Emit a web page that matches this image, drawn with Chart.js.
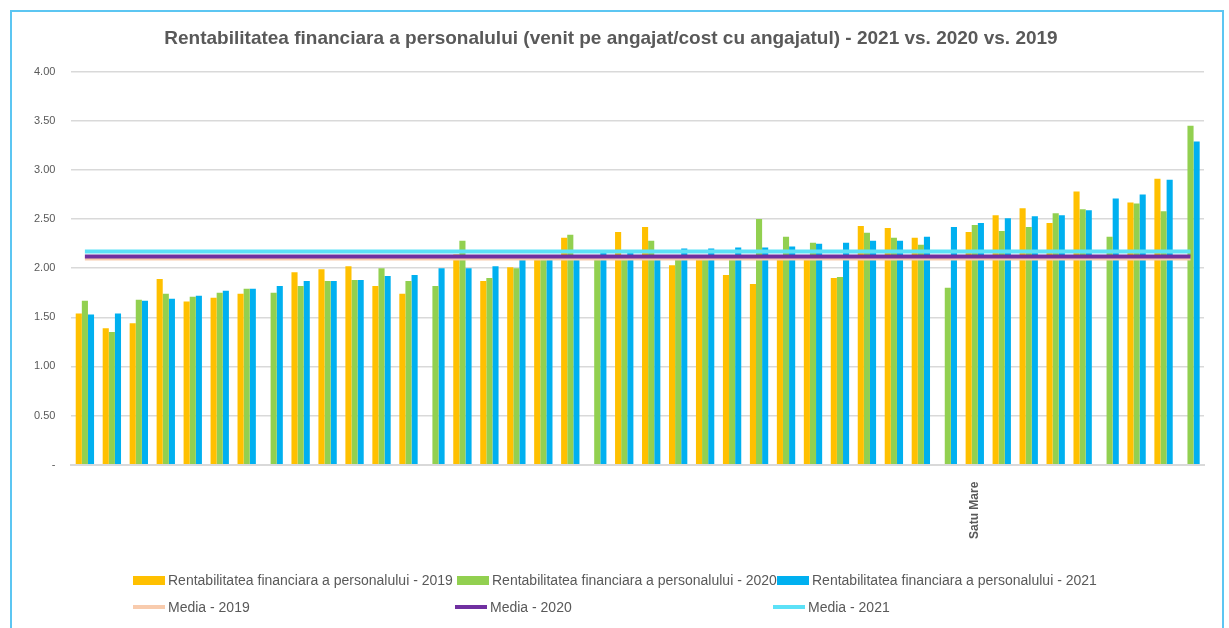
<!DOCTYPE html>
<html>
<head>
<meta charset="utf-8">
<script src="https://cdn.jsdelivr.net/npm/chart.js@4/dist/chart.umd.min.js"></script>
<style>
  html, body { margin: 0; padding: 0; background: #fff; }
  body { width: 1229px; height: 628px; position: relative; overflow: hidden; }
  #frame { position: absolute; left: 10px; top: 10px; width: 1214px; height: 640px;
           border: 2px solid #5cc6f2; border-bottom: none; box-sizing: border-box; }
  #chart { position: absolute; left: 0; top: 0; }
  #legend { position: absolute; left: 133px; top: 572px; width: 1000px;
            font-family: "Liberation Sans", sans-serif;
            font-size: 14px; color: #595959; }
  .item { position: absolute; display: flex; align-items: center; white-space: nowrap; }
  .swatch { display: inline-block; width: 32px; margin-right: 3px; }
</style>
</head>
<body>
<div id="frame"></div>
<canvas id="chart" width="1229" height="628"></canvas>
<div id="legend"></div>
<script>
// 42 judete, doar "Satu Mare" se vede pe axa
var categories = ['', '', '', '', '', '', '', '', '', '', '', '', '', '', '', '', '', '', '', '', '',
                  '', '', '', '', '', '', '', '', '', '', '', '', 'Satu Mare', '', '', '', '', '', '', '', ''];

var rent2019 = [1.54, 1.39, 1.44, 1.89, 1.66, 1.70, 1.74, null, 1.96, 1.99,
                2.02, 1.82, 1.74, null, 2.14, 1.87, 2.01, 2.13, 2.31, null,
                2.37, 2.42, 2.03, 2.12, 1.93, 1.84, 2.12, 2.13, 1.90, 2.43,
                2.41, 2.31, null, 2.37, 2.54, 2.61, 2.46, 2.78, null, 2.67,
                2.91, null];
var rent2020 = [1.67, 1.35, 1.68, 1.74, 1.71, 1.75, 1.79, 1.75, 1.82, 1.87,
                1.88, 2.00, 1.87, 1.82, 2.28, 1.90, 2.00, 2.12, 2.34, 2.12,
                2.13, 2.28, 2.09, 2.12, 2.10, 2.50, 2.32, 2.26, 1.91, 2.36,
                2.31, 2.24, 1.80, 2.44, 2.38, 2.42, 2.56, 2.60, 2.32, 2.66,
                2.58, 3.45];
var rent2021 = [1.53, 1.54, 1.67, 1.69, 1.72, 1.77, 1.79, 1.82, 1.87, 1.87,
                1.88, 1.92, 1.93, 2.00, 2.00, 2.02, 2.09, 2.11, 2.12, 2.16,
                2.16, 2.13, 2.20, 2.20, 2.21, 2.21, 2.22, 2.25, 2.26, 2.28,
                2.28, 2.32, 2.42, 2.46, 2.51, 2.53, 2.54, 2.59, 2.71, 2.75,
                2.90, 3.29];

var media2019 = 2.10;
var media2020 = 2.12;
var media2021 = 2.17;

var barLabels = ['Rentabilitatea financiara a personalului - 2019',
                 'Rentabilitatea financiara a personalului - 2020',
                 'Rentabilitatea financiara a personalului - 2021'];
var mediaLabels = ['Media - 2019', 'Media - 2020', 'Media - 2021'];

var barColors = ['#FFC000', '#92D050', '#00B0F0'];
var lineColors = ['#F8CBAD', '#7030A0', '#5CE1F7'];

function mediaLine(label, value, color, order) {
    // media e aceeasi pentru fiecare judet -> linie orizontala
    return {
        type: 'line', label: label,
        data: categories.map(function () { return value; }),
        borderColor: color, backgroundColor: color, borderWidth: 4,
        pointRadius: 0, order: order
    };
}

var ctx = document.getElementById('chart').getContext('2d');
var chart = new Chart(ctx, {
    type: 'bar',
    data: {
        labels: categories,
        datasets: [
            { label: barLabels[0], data: rent2019, backgroundColor: barColors[0], order: 5 },
            { label: barLabels[1], data: rent2020, backgroundColor: barColors[1], order: 5 },
            { label: barLabels[2], data: rent2021, backgroundColor: barColors[2], order: 5 },
            mediaLine(mediaLabels[0], media2019, lineColors[0], 3),
            mediaLine(mediaLabels[1], media2020, lineColors[1], 2),
            mediaLine(mediaLabels[2], media2021, lineColors[2], 1)
        ]
    },
    options: {
        responsive: false,
        animation: false,
        datasets: { bar: { categoryPercentage: 0.68, barPercentage: 1.0 } },
        layout: { padding: { left: 18, right: 25, top: 0, bottom: 80 } },
        plugins: {
            legend: { display: false },
            tooltip: { enabled: false },
            title: {
                display: true,
                text: 'Rentabilitatea financiara a personalului (venit pe angajat/cost cu angajatul) - 2021 vs. 2020 vs. 2019',
                color: '#595959',
                font: { family: '"Liberation Sans", sans-serif', size: 19, weight: 'bold' },
                padding: { top: 27, bottom: 22 }
            }
        },
        scales: {
            x: {
                grid: { display: false },
                border: { color: '#d9d9d9', width: 2 },
                ticks: {
                    autoSkip: false, minRotation: 90, maxRotation: 90, padding: 9,
                    color: '#595959',
                    font: { family: '"Liberation Sans", sans-serif', size: 12, weight: 'bold' }
                }
            },
            y: {
                min: 0, max: 4,
                ticks: {
                    stepSize: 0.5, padding: 16, color: '#595959',
                    font: { family: '"Liberation Sans", sans-serif', size: 11 },
                    callback: function (v) { return v === 0 ? '-' : v.toFixed(2); }
                },
                grid: { color: '#d9d9d9', lineWidth: 1.5, drawTicks: false },
                border: { display: false }
            }
        }
    }
});

// legenda in grila, ca in Excel
var legend = document.getElementById('legend');
var cols = [[0, 324, 644], [0, 322, 640]];
chart.data.datasets.forEach(function (ds, i) {
    var row = i < 3 ? 0 : 1;
    var col = i % 3;
    var el = document.createElement('div');
    el.className = 'item';
    el.style.left = cols[row][col] + 'px';
    el.style.top = (row * 27) + 'px';
    var sw = document.createElement('span');
    sw.className = 'swatch';
    sw.style.height = row ? '4px' : '9px';
    sw.style.background = row ? ds.borderColor : ds.backgroundColor;
    el.appendChild(sw);
    el.appendChild(document.createTextNode(ds.label));
    legend.appendChild(el);
});
</script>
</body>
</html>
